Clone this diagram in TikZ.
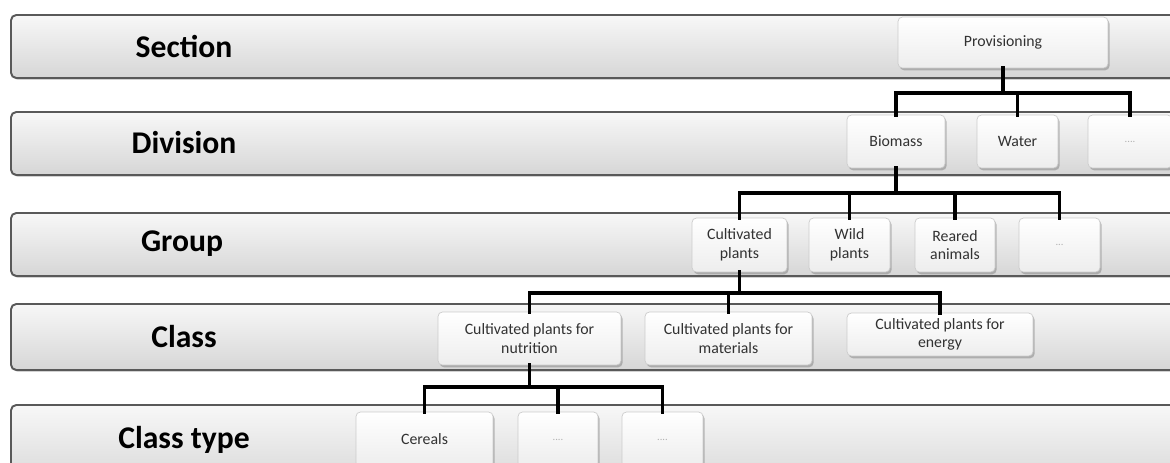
\documentclass[tikz,border=0pt]{standalone}
\usepackage{fontspec}
\setmainfont{Carlito}
\usetikzlibrary{shadows}
\definecolor{boxtext}{RGB}{50,50,50}

\tikzset{
  layer/.style={draw=black!65, line width=1.1pt, rounded corners=3pt,
    top color=gray!6, bottom color=gray!32,
    drop shadow={shadow xshift=0.6pt, shadow yshift=-1pt, opacity=0.35}},
  layername/.style={font=\fontsize{18}{20}\selectfont\bfseries, text=black},
  item/.style={draw=gray!40, line width=0.4pt, rounded corners=2.5pt,
    top color=white, bottom color=gray!14, align=center, text=boxtext,
    font=\fontsize{9}{10.5}\selectfont, inner sep=0pt,
    drop shadow={shadow xshift=0.9pt, shadow yshift=-1.3pt, opacity=0.5}},
  dots/.style={item, text=gray!60, font=\fontsize{6}{7}\selectfont},
  link/.style={line width=2.2pt, line cap=rect}
}

\begin{document}
\begin{tikzpicture}[x=0.02cm,y=-0.02cm]
        \useasboundingbox (0,0) rectangle (1170,463);
        \clip (0,0) rectangle (1170,463);
        \fill[white] (0,0) rectangle (1170,463);
        % levels
        \draw[layer] (11,15) rectangle (1200,78);
        \draw[layer] (11,112) rectangle (1200,175);
        \draw[layer] (11,213) rectangle (1200,276);
        \draw[layer] (11,304) rectangle (1200,370);
        \draw[layer] (11,405) rectangle (1200,490);
        \node[layername] (lsec) at (184,46) {Section};
        \node[layername] (ldiv) at (184,143) {Division};
        \node[layername] (lgrp) at (182,244) {Group};
        \node[layername] (lcls) at (184,337) {Class};
        \node[layername] (ltyp) at (184,440) {Class type};
        % section
        \node[item, minimum width=4.2cm, minimum height=1.02cm] (prov) at (1003,42.5) {Provisioning};
        % division
        \node[item, minimum width=1.96cm, minimum height=1.06cm] (biomass) at (896,141.5) {Biomass};
        \node[item, minimum width=1.62cm, minimum height=1.06cm] (water) at (1017.5,141.5) {Water};
        \node[dots, minimum width=1.68cm, minimum height=1.06cm] (divmore) at (1130,141.5) {....};
        % group
        \node[item, minimum width=1.9cm, minimum height=1.08cm] (cultplants) at (739.5,245) {Cultivated\\plants};
        \node[item, minimum width=1.62cm, minimum height=1.08cm] (wildplants) at (849.5,245) {Wild\\plants};
        \node[item, minimum width=1.6cm, minimum height=1.08cm] (reared) at (955,245) {Reared\\animals};
        \node[dots, minimum width=1.62cm, minimum height=1.08cm] (grpmore) at (1059.5,245) {...};
        % class
        \node[item, minimum width=3.66cm, minimum height=1.06cm] (nutrition) at (529.5,338.5) {Cultivated plants for\\nutrition};
        \node[item, minimum width=3.34cm, minimum height=1.06cm] (materials) at (728.5,338.5) {Cultivated plants for\\materials};
        \node[item, minimum width=3.72cm, minimum height=0.86cm] (energy) at (940,334.5) {Cultivated plants for\\energy};
        % class type
        \node[item, minimum width=2.74cm, minimum height=1.1cm] (cereals) at (424.5,439.5) {Cereals};
        \node[dots, minimum width=1.6cm, minimum height=1.1cm] (typmore1) at (558,439.5) {....};
        \node[dots, minimum width=1.62cm, minimum height=1.1cm] (typmore2) at (662.5,439.5) {....};
        % tree lines
        \coordinate (bus1) at (0,93);
        \coordinate (bus2) at (0,193);
        \coordinate (bus3) at (0,293);
        \coordinate (bus4) at (0,387);
        \foreach \c in {biomass,water,divmore}
          \draw[link] (prov.south) -- (prov.south |- bus1) -| (\c.north);
        \foreach \c in {cultplants,wildplants,reared,grpmore}
          \draw[link] (biomass.south) -- (biomass.south |- bus2) -| (\c.north);
        \foreach \c in {nutrition,materials,energy}
          \draw[link] (cultplants.south) -- (cultplants.south |- bus3) -| (\c.north);
        \foreach \c in {cereals,typmore1,typmore2}
          \draw[link] (nutrition.south) -- (nutrition.south |- bus4) -| (\c.north);
    \end{tikzpicture}
\end{document}
